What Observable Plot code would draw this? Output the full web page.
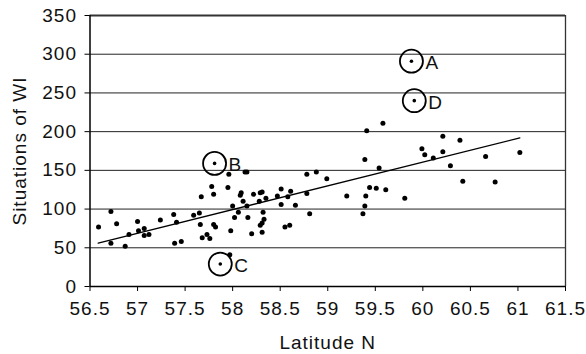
<!DOCTYPE html>
<html>
<head>
<meta charset="utf-8">
<script src="https://cdn.jsdelivr.net/npm/d3@7"></script>
<script src="https://cdn.jsdelivr.net/npm/@observablehq/plot@0.6"></script>
<style>
  html, body { margin: 0; padding: 0; background: #fff; }
  svg text { letter-spacing: 1px; }
</style>
</head>
<body>
<div id="chart"></div>
<script>
const lat = [56.59,56.72,56.72,56.78,56.87,56.91,57.00,57.01,57.07,57.07,57.12,57.24,57.38,57.41,57.39,57.46,57.59,57.65,57.66,57.67,57.68,57.73,57.76,57.78,57.80,57.80,57.82,57.95,57.96,57.98,57.97,58.00,58.02,58.06,58.08,58.09,58.11,58.13,58.15,58.15,58.16,58.20,58.22,58.28,58.29,58.31,58.32,58.33,58.29,58.31,58.31,58.35,58.47,58.51,58.51,58.55,58.60,58.58,58.61,58.66,58.78,58.78,58.81,58.88,58.99,59.20,59.37,59.39,59.40,59.39,59.44,59.51,59.54,59.61,59.81,59.41,59.58,60.21,60.39,59.99,60.02,60.11,60.21,60.29,60.66,61.02,60.42,60.76];
const wi  = [77,97,56,81,52,67,84,72,75,66,67,86,93,83,56,58,92,95,80,116,63,67,62,129,119,80,77,128,145,72,41,104,89,96,118,121,110,148,148,104,89,68,119,110,121,122,96,87,79,82,70,114,117,126,106,77,79,116,123,105,145,120,94,148,139,117,94,104,117,164,128,127,153,125,114,201,211,194,189,178,170,166,174,156,168,173,136,135];

const markNames = ["A","B","C","D"];
const markLat = [59.88, 57.81, 57.87, 59.91];
const markWi = [291, 159, 29, 240];

const trendLat = [56.586, 61.02];
const trendWi = [56, 192];

const xTicks = [56.5,57,57.5,58,58.5,59,59.5,60,60.5,61,61.5];
const yTicks = [0,50,100,150,200,250,300,350];
const gridY = [50,100,150,200,250,300];

const points = lat.map((d, i) => ({lat: d, wi: wi[i]}));
const marked = markNames.map((n, i) => ({name: n, lat: markLat[i], wi: markWi[i]}));
const trend = trendLat.map((d, i) => ({lat: d, wi: trendWi[i]}));

const chart = Plot.plot({
  width: 586,
  height: 354,
  marginLeft: 89.5,
  marginRight: 21,
  marginTop: 15,
  marginBottom: 68,
  style: {fontFamily: "'Liberation Sans', Arial, sans-serif", fontSize: "19px", color: "#111", background: "#fff"},
  x: {domain: [56.5, 61.5]},
  y: {domain: [0, 350]},
  marks: [
    Plot.ruleY(gridY, {stroke: "#222", strokeWidth: 1}),
    Plot.ruleY([350], {stroke: "#333", strokeWidth: 2}),
    Plot.ruleX([61.5], {stroke: "#333", strokeWidth: 1.3}),
    Plot.ruleX([56.5], {stroke: "#000", strokeWidth: 1.5}),
    Plot.ruleY([0], {stroke: "#000", strokeWidth: 1.5}),
    Plot.axisX({ticks: xTicks, tickSize: 5, tickPadding: 10, fontSize: 19, tickFormat: d => String(d), label: "Latitude N", labelAnchor: "center", labelArrow: "none", labelOffset: 62, stroke: "#000"}),
    Plot.axisY({ticks: yTicks, tickSize: 5, tickPadding: 8, fontSize: 19, tickFormat: d => String(d), label: "Situations of WI", labelAnchor: "center", labelArrow: "none", labelOffset: 78, stroke: "#000"}),
    Plot.line(trend, {x: "lat", y: "wi", stroke: "#000", strokeWidth: 1.3}),
    Plot.dot(points, {x: "lat", y: "wi", r: 2.5, fill: "#000", stroke: "none"}),
    Plot.dot(marked, {x: "lat", y: "wi", r: 1.8, fill: "#000", stroke: "none"}),
    Plot.dot(marked, {x: "lat", y: "wi", r: 11.5, fill: "none", stroke: "#000", strokeWidth: 1.8}),
    Plot.text(marked, {x: "lat", y: "wi", text: "name", dx: 14, dy: 2, textAnchor: "start", fontSize: 19, fill: "#111"})
  ]
});
document.getElementById("chart").appendChild(chart);
</script>
</body>
</html>
